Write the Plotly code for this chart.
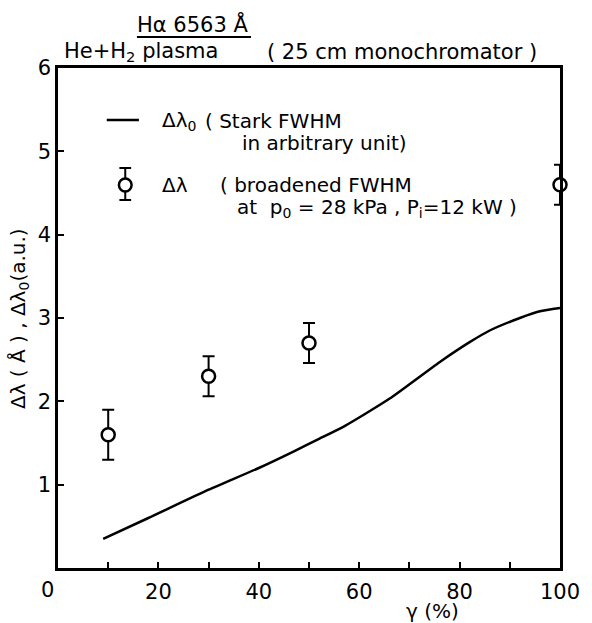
import plotly.graph_objects as go

# Stark FWHM curve (arbitrary unit)
curve_x = [9, 18, 30, 40, 47, 52, 57, 66, 76, 82, 86, 92, 96, 100]
curve_y = [0.35, 0.60, 0.94, 1.20, 1.40, 1.55, 1.70, 2.03, 2.47, 2.71, 2.85, 3.00, 3.08, 3.12]

# broadened FWHM measurements
pts_x = [10, 30, 50, 100]
pts_y = [1.6, 2.3, 2.7, 4.6]
pts_err = [0.3, 0.24, 0.24, 0.24]

x_tickvals = [20, 40, 60, 80, 100]
x_ticktext = ["20", "40", "60", "80", "100"]
y_tickvals = [1, 2, 3, 4, 5, 6]
y_ticktext = ["1", "2", "3", "4", "5", "6"]

FONT = "DejaVu Sans"
FS = 21
FL = 20

W, H = 592, 623
L, R, T, B = 58, 19, 68, 55
PW = W - L - R
PH = H - T - B


def px(x):
    return (x - L) / PW


def py(y):
    return (H - B - y) / PH


fig = go.Figure()
fig.add_trace(go.Scatter(
    x=curve_x, y=curve_y, mode="lines",
    line=dict(color="black", width=2.5, shape="spline", smoothing=0.6),
    showlegend=False, hoverinfo="skip"))
fig.add_trace(go.Scatter(
    x=pts_x, y=pts_y, mode="markers",
    marker=dict(symbol="circle", size=13, color="white",
                line=dict(color="black", width=2.5)),
    error_y=dict(type="data", array=pts_err, color="black", thickness=2, width=6),
    showlegend=False, cliponaxis=False))

fig.update_xaxes(range=[0, 100], showline=True, linecolor="black", linewidth=2.5,
                 mirror=True, ticks="inside", ticklen=6, tickwidth=1.5, tickcolor="black",
                 tickvals=x_tickvals, ticktext=x_ticktext, showgrid=False, zeroline=False,
                 ticklabelstandoff=3, ticklabeloverflow="allow",
                 minor=dict(ticks="inside", tickvals=[10, 30, 50, 70, 90], ticklen=6,
                            tickwidth=1.5, tickcolor="black", showgrid=False),
                 tickfont=dict(family=FONT, size=FS, color="black"))
fig.update_yaxes(range=[0, 6], showline=True, linecolor="black", linewidth=2.5,
                 mirror=True, ticks="inside", ticklen=6, tickwidth=1.5, tickcolor="black",
                 tickvals=y_tickvals, ticktext=y_ticktext, showgrid=False, zeroline=False,
                 tickfont=dict(family=FONT, size=FS, color="black"))

ann = []


def add_text(text, x, y, xanchor="left", size=FL, angle=0):
    ann.append(dict(text=text, x=px(x), y=py(y), xref="paper", yref="paper",
                    xanchor=xanchor, yanchor="middle", showarrow=False, textangle=angle,
                    font=dict(family=FONT, size=size, color="black")))


add_text("0", 47, 590, "center", size=FS)
add_text("γ (%)", 442, 611, "center")
add_text("Δλ ( Å ) , Δλ<sub>0</sub>(a.u.)", 18, 319, "center", angle=-90)
add_text("Hα 6563 Å", 196, 24, "center", size=FS)
add_text("He+H<sub>2</sub> plasma", 62, 52, "left", size=FS)
add_text("( 25 cm monochromator )", 411, 52, "center", size=FS)
add_text("Δλ<sub>0</sub>", 163, 121, "left")
add_text("( Stark FWHM", 207, 121, "left")
add_text("in arbitrary unit)", 245, 143, "left")
add_text("Δλ", 163, 185, "left")
add_text("( broadened FWHM", 222, 185, "left")
add_text("at  p<sub>0</sub> = 28 kPa , P<sub>i</sub>=12 kW )", 240, 208, "left")

shapes = [
    dict(type="line", xref="paper", yref="paper", x0=px(139), x1=px(256), y0=py(37), y1=py(37),
         line=dict(color="black", width=2)),
    dict(type="line", xref="paper", yref="paper", x0=px(108), x1=px(141), y0=py(120), y1=py(120),
         line=dict(color="black", width=2.5)),
    dict(type="line", xref="paper", yref="paper", x0=px(127), x1=px(127), y0=py(168), y1=py(200),
         line=dict(color="black", width=2)),
    dict(type="line", xref="paper", yref="paper", x0=px(121), x1=px(133), y0=py(168), y1=py(168),
         line=dict(color="black", width=2)),
    dict(type="line", xref="paper", yref="paper", x0=px(121), x1=px(133), y0=py(200), y1=py(200),
         line=dict(color="black", width=2)),
    dict(type="circle", xref="paper", yref="paper", x0=px(120.5), x1=px(133.5), y0=py(178.5), y1=py(191.5),
         fillcolor="white", line=dict(color="black", width=2.5)),
]

fig.update_layout(width=W, height=H, margin=dict(l=L, r=R, t=T, b=B),
                  paper_bgcolor="white", plot_bgcolor="white",
                  annotations=ann, shapes=shapes, showlegend=False)

fig.write_html("out.html")
